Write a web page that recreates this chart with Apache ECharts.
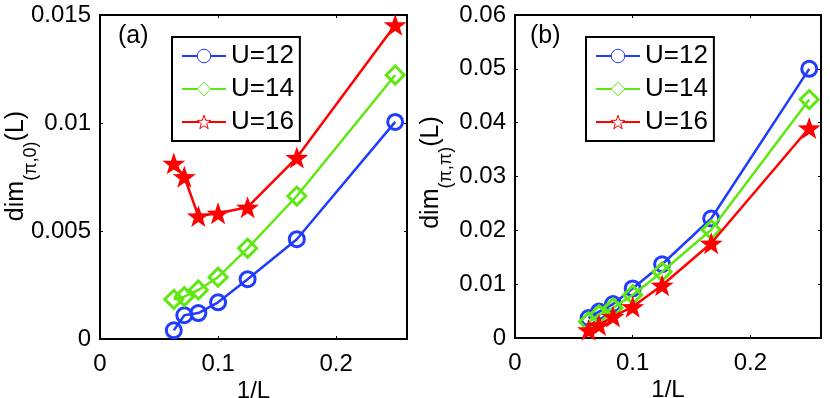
<!DOCTYPE html>
<html>
<head>
<meta charset="utf-8">
<script src="https://cdn.jsdelivr.net/npm/echarts@6/dist/echarts.min.js"></script>
<style>
  html, body { margin: 0; padding: 0; background: #fff; }
  #chart { width: 830px; height: 398px; }
</style>
</head>
<body>
<div id="chart"></div>
<script>
// 1/L for L = 16, 14, 12, 10, 8, 6, 4
const invL = [0.0625, 0.0714, 0.0833, 0.1, 0.125, 0.1667, 0.25];
const seriesNames = ['U=12', 'U=14', 'U=16'];

// panel (a): dim_(pi,0)(L)
const a12 = [0.0004, 0.0011, 0.0012, 0.0017, 0.00277, 0.00462, 0.01005];
const a14 = [0.00184, 0.00196, 0.00227, 0.00286, 0.0042, 0.00662, 0.01222];
const a16 = [0.00813, 0.00751, 0.00569, 0.00582, 0.0061, 0.0084, 0.01454];

// panel (b): dim_(pi,pi)(L)
const b12 = [0.0037, 0.0049, 0.0063, 0.0092, 0.0137, 0.0222, 0.0500];
const b14 = [0.0030, 0.0043, 0.0056, 0.0080, 0.0123, 0.0201, 0.0443];
const b16 = [0.0015, 0.0024, 0.0040, 0.0058, 0.0098, 0.0176, 0.0390];

const blue = '#1f3cff', green = '#5fe80f', red = '#ff0000';
const starPath = 'path://M0,-10L2.35,-3.24L9.51,-3.09L3.8,1.24L5.88,8.09L0,4L-5.88,8.09L-3.8,1.24L-9.51,-3.09L-2.35,-3.24Z';
const font = 'Liberation Sans, Arial, sans-serif';

const chart = echarts.init(document.getElementById('chart'));

function pairs(ys) {
  return invL.map((x, i) => [x, ys[i]]);
}

function mkSeries(idx, ys) {
  const list = [
    { name: seriesNames[0], color: blue, symbol: 'circle', size: 15, fill: 'transparent', border: 3 },
    { name: seriesNames[1], color: green, symbol: 'diamond', size: 18, fill: 'transparent', border: 3 },
    { name: seriesNames[2], color: red, symbol: starPath, size: 23, fill: red, border: 0 }
  ];
  return ys.map((d, k) => ({
    name: list[k].name,
    type: 'line',
    xAxisIndex: idx * 2,
    yAxisIndex: idx * 2,
    data: pairs(d),
    symbol: list[k].symbol,
    symbolSize: list[k].size,
    symbolKeepAspect: true,
    showAllSymbol: true,
    lineStyle: { color: list[k].color, width: 2.5 },
    itemStyle: { color: list[k].fill, borderColor: list[k].color, borderWidth: list[k].border },
    z: 3 + k,
    animation: false
  }));
}

function xAxes(gi, max) {
  const base = {
    gridIndex: gi, type: 'value', min: 0, max: max, interval: 0.1,
    splitLine: { show: false },
    axisLine: { show: true, onZero: false, lineStyle: { color: '#000', width: 2 } },
    axisTick: { inside: true, length: 3, lineStyle: { color: '#000', width: 1 } }
  };
  return [
    Object.assign({}, base, {
      position: 'bottom',
      name: '1/L', nameLocation: 'middle', nameGap: 40, nameMoveOverlap: false,
      nameTextStyle: { fontSize: 24, fontFamily: font, color: '#000' },
      axisLabel: { fontSize: 24, fontFamily: font, color: '#000', margin: 13, showMaxLabel: false }
    }),
    Object.assign({}, base, { position: 'top', axisLabel: { show: false } })
  ];
}

function yAxes(gi, max, interval, sub, gap, shift) {
  const base = {
    gridIndex: gi, type: 'value', min: 0, max: max, interval: interval,
    splitLine: { show: false },
    axisLine: { show: true, onZero: false, lineStyle: { color: '#000', width: 2 } },
    axisTick: { inside: true, length: 3, lineStyle: { color: '#000', width: 1 } }
  };
  return [
    Object.assign({}, base, {
      position: 'left',
      name: '{m|dim}{s|' + sub + '}{m|(L)}',
      nameLocation: 'middle', nameGap: gap, nameMoveOverlap: false,
      nameTextStyle: {
        padding: [0, 0, 0, shift],
        rich: {
          m: { fontSize: 25, fontFamily: font, color: '#000', verticalAlign: 'bottom', padding: [0, 0, 11, 0] },
          s: { fontSize: 18, fontFamily: font, color: '#000', verticalAlign: 'bottom' }
        }
      },
      axisLabel: { fontSize: 24, fontFamily: font, color: '#000', margin: 9 }
    }),
    Object.assign({}, base, { position: 'right', axisLabel: { show: false } })
  ];
}

function legendFor(left) {
  return {
    orient: 'vertical',
    left: left, top: 37,
    data: [
      { name: 'U=12', itemStyle: { color: '#fff', borderColor: blue, borderWidth: 1 } },
      { name: 'U=14', itemStyle: { color: '#fff', borderColor: green, borderWidth: 1 } },
      { name: 'U=16', itemStyle: { color: '#fff', borderColor: red, borderWidth: 1 } }
    ],
    itemWidth: 44, itemHeight: 17, itemGap: 7,
    padding: [6, 6, 6, 9],
    backgroundColor: '#fff',
    borderColor: '#000', borderWidth: 2,
    textStyle: { fontSize: 26, fontFamily: font, color: '#000' },
    selectedMode: false
  };
}

const option = {
  backgroundColor: '#fff',
  animation: false,
  grid: [
    { left: 100, top: 15, width: 307, height: 324, outerBoundsMode: 'none' },
    { left: 515, top: 15, width: 306, height: 323, outerBoundsMode: 'none' }
  ],
  xAxis: [].concat(xAxes(0, 0.26), xAxes(1, 0.26)),
  yAxis: [].concat(yAxes(0, 0.015, 0.005, '(π,0)', 60, 22), yAxes(1, 0.06, 0.01, '(π,π)', 60, 8)),
  legend: [legendFor(172), legendFor(586)],
  graphic: [
    { type: 'text', left: 118, top: 24, style: { text: '(a)', fontSize: 25, fontFamily: font, fill: '#000' } },
    { type: 'text', left: 530, top: 24, style: { text: '(b)', fontSize: 25, fontFamily: font, fill: '#000' } }
  ],
  series: [].concat(mkSeries(0, [a12, a14, a16]), mkSeries(1, [b12, b14, b16]))
};

chart.setOption(option);
</script>
</body>
</html>
